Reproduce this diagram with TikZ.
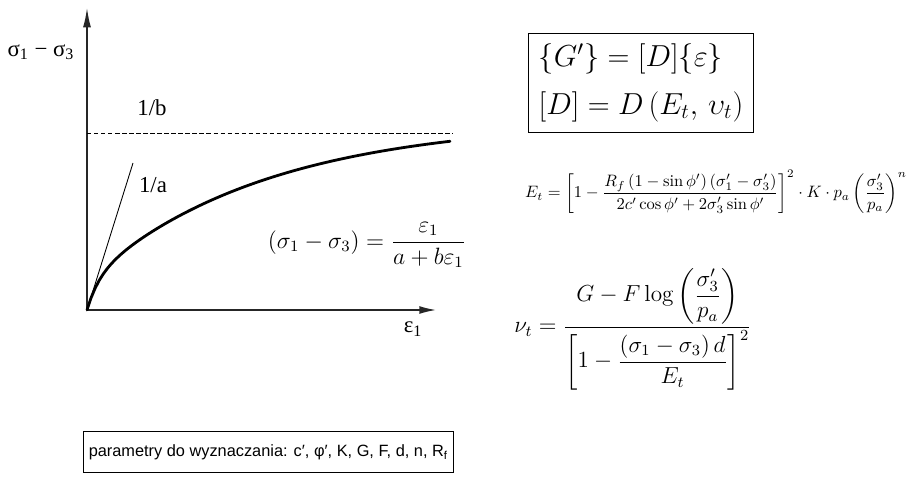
\documentclass[tikz,border=0pt]{standalone}
\usepackage{amsmath}
\usepackage{fontspec}
\newfontfamily\grkfont{Liberation Serif}
\newfontfamily\paramfont{Liberation Sans}
\usetikzlibrary{arrows.meta,positioning}

\begin{document}
\begin{tikzpicture}[x=0.02cm, y=-0.02cm,
  axis/.style={line width=0.8pt, black!85},
  curve/.style={line width=1.6pt, line cap=round},
  thinline/.style={line width=0.5pt},
  lbl/.style={font=\fontsize{13}{15}\grkfont, inner sep=1pt},
  eqbox/.style={draw, line width=0.6pt, inner xsep=6pt, inner ysep=6pt, align=left, font=\fontsize{17.28}{27}\selectfont},
  eq/.style={inner sep=0pt},
  parbox/.style={draw, line width=0.6pt, inner xsep=3pt, minimum height=0.82cm, font=\fontsize{9.3}{11}\paramfont}
]
  \useasboundingbox (0,0) rectangle (918,476);

  % axes
  \coordinate (o) at (87,310);
  \coordinate (ytip) at (87,8);
  \coordinate (xtip) at (436,310);
  \draw[axis, -{Latex[length=11pt,width=4.5pt]}] (o) -- (ytip);
  \draw[axis, -{Latex[length=9.5pt,width=4.5pt]}] (o) -- (xtip);
  \node[lbl] (ylab) at (41,52) {σ\textsubscript{1} − σ\textsubscript{3}};
  \node[lbl] (xlab) at (413,329) {ε\textsubscript{1}};

  % asymptote and initial slope
  \coordinate (asl) at (87,133);
  \coordinate (asr) at (453,133);
  \draw[thinline, dash pattern=on 2.5pt off 1.5pt] (asl) -- (asr);
  \node[lbl] (asym) at (152,108) {1/b};
  \coordinate (tan) at (133,163);
  \draw[thinline] (o) -- (tan);
  \node[lbl] (slope) at (153,185) {1/a};

  % hyperbola
  \draw[curve] plot[domain=0:363, samples=90]
    ({87+\x}, {310-30*(1-exp(-\x/12))-160*(1-exp(-\x/180))});

  \node[eq, font=\large, scale=1.12] (hypeq) at (367,245)
    {$\displaystyle \left(\sigma_1-\sigma_3\right)=\frac{\varepsilon_1}{a+b\varepsilon_1}$};

  % stiffness matrix
  \node[eqbox] (stiff) at (641,83)
    {$\left\{G'\right\}=\left[D\right]\!\left\{\varepsilon\right\}$\\
     $\left[D\right]=D\left(E_t,\,\upsilon_t\right)$};

  \node[eq, scale=0.94] (etan) at (716,192)
    {$\displaystyle E_t=\left[1-\frac{R_f\left(1-\sin\phi'\right)\left(\sigma'_1-\sigma'_3\right)}{2c'\cos\phi'+2\sigma'_3\sin\phi'}\right]^2\cdot K\cdot p_a\left(\frac{\sigma'_3}{p_a}\right)^{n}$};

  \node[eq, font=\large, scale=1.1] (nut) at (633,329)
    {$\displaystyle \nu_t=\frac{G-F\log\left(\dfrac{\sigma'_3}{p_a}\right)}{\left[1-\dfrac{\left(\sigma_1-\sigma_3\right)d}{E_t}\right]^2}$};

  % parameters
  \node[parbox, anchor=west] (params) at (83,452)
    {parametry do wyznaczania: c′, φ′, K, G, F, d, n, R\textsubscript{f}};
\end{tikzpicture}
\end{document}
